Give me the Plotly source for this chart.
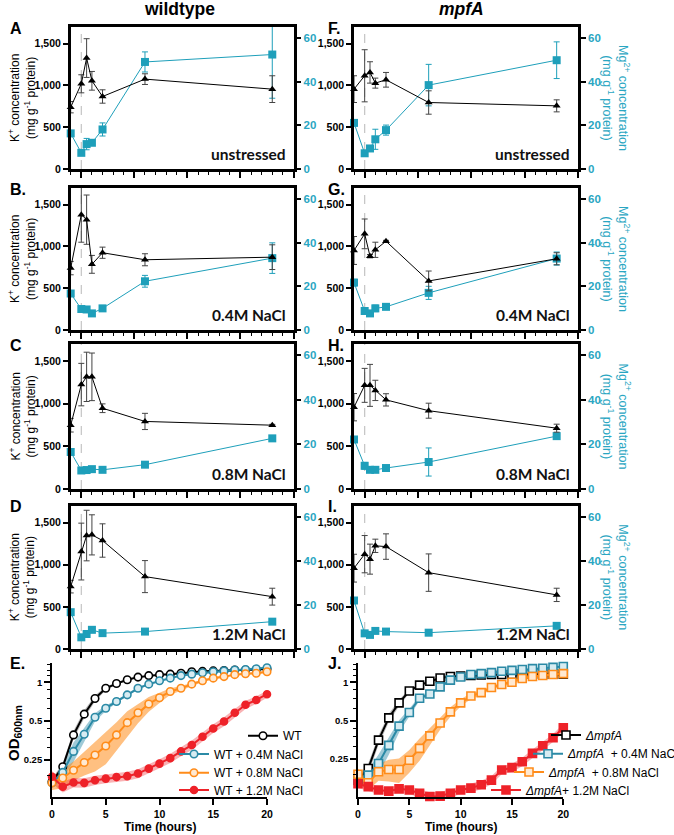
import math
import plotly.graph_objects as go

W, H = 674, 835
FONT = 'Liberation Sans, Arial, sans-serif'
PANEL_FONT = 'Lato, Liberation Sans, sans-serif'

# ---------------- ion content data (time in hours relative to stress) ----------------
ion_time = [-1, 0, 0.5, 1, 2, 6, 18]

wt_unstressed_k = [740, 1020, 1328, 1056, 868, 1076, 956]
wt_unstressed_k_err = [68, 108, 232, 112, 80, 64, 160]
wt_unstressed_mg = [16.3, 7.4, 11.4, 12.0, 18.1, 49.0, 52.4]
wt_unstressed_mg_err = [1.2, 0.8, 2.6, 1.2, 3.0, 4.6, 20.0]

wt_04_k = [741, 1381, 1321, 786, 925, 841, 872]
wt_04_k_err = [80, 330, 295, 107, 67, 72, 148]
wt_04_mg = [16.7, 9.6, 9.4, 7.6, 9.9, 22.3, 32.9]
wt_04_mg_err = [1.0, 1.0, 0.8, 0.8, 0.8, 2.7, 7.0]

wt_08_k = [748, 1224, 1315, 1315, 947, 792, 748]
wt_08_k_err = [80, 249, 289, 279, 51, 95, 10]
wt_08_mg = [16.6, 8.3, 8.5, 8.9, 8.6, 10.9, 22.7]
wt_08_mg_err = [0.6, 0.5, 0.5, 0.5, 0.5, 1.0, 0.6]

wt_12_k = [740, 1156, 1346, 1354, 1287, 859, 621]
wt_12_k_err = [75, 337, 300, 238, 198, 190, 100]
wt_12_mg = [16.7, 5.3, 6.8, 8.7, 7.2, 7.9, 12.4]
wt_12_mg_err = [0.8, 0.8, 0.8, 0.8, 0.6, 1.3, 1.0]

mpfa_unstressed_k = [956, 1116, 1156, 1028, 1068, 796, 756]
mpfa_unstressed_k_err = [160, 312, 128, 60, 88, 140, 72]
mpfa_unstressed_mg = [21.1, 7.2, 9.4, 13.6, 17.8, 38.4, 49.8]
mpfa_unstressed_mg_err = [1.0, 0.5, 1.2, 4.6, 2.3, 9.5, 8.4]

mpfa_04_k = [952, 1151, 884, 960, 1063, 587, 853]
mpfa_04_k_err = [167, 178, 20, 91, 10, 119, 72]
mpfa_04_mg = [21.7, 8.7, 7.6, 9.9, 10.6, 17.0, 32.7]
mpfa_04_mg_err = [1.5, 1.5, 1.0, 1.5, 0.8, 3.0, 3.0]

mpfa_08_k = [959, 1215, 1215, 1156, 1045, 918, 713]
mpfa_08_k_err = [160, 199, 246, 119, 72, 88, 47]
mpfa_08_mg = [22.2, 10.4, 8.6, 8.6, 9.4, 12.1, 23.7]
mpfa_08_mg_err = [1.0, 1.5, 0.8, 0.8, 0.8, 6.3, 1.0]

mpfa_12_k = [959, 1125, 1066, 1224, 1215, 906, 642]
mpfa_12_k_err = [165, 221, 178, 79, 151, 222, 79]
mpfa_12_mg = [22.0, 7.1, 6.4, 8.2, 7.9, 7.4, 10.5]
mpfa_12_mg_err = [0.7, 0.7, 0.7, 0.7, 0.7, 1.3, 0.7]

condition_labels = ['unstressed', '0.4M NaCl', '0.8M NaCl', '1.2M NaCl']
k_ticks = [0, 500, 1000, 1500]
mg_ticks = [0, 20, 40, 60]

# ---------------- growth curve data ----------------
growth_time = list(range(21))
od_ticks = [0.25, 0.5, 1]
od_tick_labels = ['0.25', '0.5', '1']
od_minor_ticks = [0.1875, 0.3125, 0.375, 0.4375, 0.625, 0.75, 0.875, 1.125, 1.25, 1.375]

wt_od = [0.168, 0.22, 0.39, 0.566, 0.75, 0.90, 0.98, 1.05, 1.10, 1.13, 1.15,
         1.16, 1.18, 1.21, 1.22, 1.23, 1.24, 1.25, 1.25, 1.26, 1.27]
wt_od_sd = [0.01, 0.015, 0.03, 0.04, 0.04, 0.03, 0.02, 0.02, 0.015, 0.015, 0.015,
            0.015, 0.015, 0.015, 0.015, 0.015, 0.015, 0.015, 0.015, 0.015, 0.02]
wt04_od = [0.165, 0.199, 0.29, 0.395, 0.535, 0.63, 0.71, 0.80, 0.90, 0.97, 1.03,
           1.08, 1.13, 1.16, 1.19, 1.21, 1.23, 1.25, 1.26, 1.28, 1.30]
wt04_od_sd = [0.01, 0.02, 0.05, 0.05, 0.04, 0.03, 0.02, 0.02, 0.02, 0.02, 0.02,
              0.02, 0.02, 0.02, 0.02, 0.02, 0.02, 0.02, 0.02, 0.02, 0.02]
wt08_od = [0.165, 0.18, 0.207, 0.238, 0.272, 0.32, 0.39, 0.486, 0.58, 0.68, 0.76,
           0.85, 0.90, 0.97, 1.03, 1.08, 1.11, 1.15, 1.17, 1.18, 1.21]
wt08_od_sd = [0.02, 0.03, 0.035, 0.05, 0.07, 0.09, 0.10, 0.11, 0.10, 0.09, 0.07,
              0.05, 0.04, 0.03, 0.025, 0.02, 0.02, 0.02, 0.02, 0.02, 0.02]
wt12_od = [0.184, 0.154, 0.166, 0.165, 0.173, 0.178, 0.183, 0.186, 0.195, 0.213, 0.233,
           0.257, 0.29, 0.325, 0.377, 0.438, 0.496, 0.58, 0.67, 0.73, 0.81]
wt12_od_sd = [0.02, 0.015, 0.014, 0.014, 0.014, 0.014, 0.015, 0.015, 0.016, 0.017, 0.019,
              0.021, 0.024, 0.027, 0.03, 0.035, 0.04, 0.045, 0.05, 0.05, 0.05]

mpfa_od = [0.171, 0.211, 0.352, 0.526, 0.69, 0.855, 0.95, 1.02, 1.08, 1.11, 1.12,
           1.13, 1.14, 1.15, 1.15, 1.15, 1.15, 1.16, 1.16, 1.16, 1.16]
mpfa_od_sd = [0.01, 0.02, 0.03, 0.04, 0.04, 0.03, 0.02, 0.02, 0.02, 0.02, 0.02,
              0.02, 0.02, 0.025, 0.03, 0.03, 0.03, 0.035, 0.04, 0.04, 0.04]
mpfa04_od = [0.17, 0.187, 0.231, 0.32, 0.453, 0.58, 0.75, 0.81, 0.92, 1.04, 1.10,
             1.15, 1.17, 1.19, 1.22, 1.24, 1.26, 1.28, 1.29, 1.31, 1.33]
mpfa04_od_sd = [0.01, 0.02, 0.04, 0.05, 0.05, 0.04, 0.03, 0.02, 0.02, 0.02, 0.02,
                0.02, 0.02, 0.02, 0.02, 0.02, 0.02, 0.02, 0.02, 0.02, 0.02]
mpfa08_od = [0.19, 0.163, 0.199, 0.207, 0.207, 0.245, 0.303, 0.38, 0.48, 0.586, 0.69,
             0.78, 0.83, 0.91, 0.96, 1.0, 1.07, 1.11, 1.13, 1.15, 1.17]
mpfa08_od_sd = [0.02, 0.02, 0.03, 0.04, 0.045, 0.05, 0.06, 0.06, 0.055, 0.05, 0.045,
                0.04, 0.035, 0.03, 0.03, 0.03, 0.03, 0.03, 0.03, 0.03, 0.03]
mpfa12_od = [0.16, 0.152, 0.143, 0.14, 0.146, 0.143, 0.135, 0.127, 0.128, 0.135, 0.143,
             0.148, 0.157, 0.171, 0.205, 0.214, 0.238, 0.277, 0.318, 0.367, 0.44]
mpfa12_od_sd = [0.012, 0.011, 0.01, 0.01, 0.01, 0.01, 0.01, 0.01, 0.01, 0.01, 0.01,
                0.011, 0.012, 0.013, 0.015, 0.016, 0.018, 0.02, 0.024, 0.027, 0.033]

wt_names = ['WT', 'WT + 0.4M NaCl', 'WT + 0.8M NaCl', 'WT + 1.2M NaCl']
mpfa_names = ['<i>ΔmpfA</i>', '<i>ΔmpfA</i>&nbsp; + 0.4M NaCl',
              '<i>ΔmpfA</i>&nbsp; + 0.8M NaCl', '<i>ΔmpfA</i>+ 1.2M NaCl']

# ---------------- styling ----------------
MG_COLOR = '#1e9fba'
MG_TEXT = '#2aa6c2'
TEAL = '#2b8aa6'
ORANGE = '#ff8c1a'
RED = '#ee2229'


def px(x):
    return x / W


def py(y):
    return 1 - y / H


COLS = [(70.7, 293.5), (354.0, 578.0)]
ROWS = [(27.0, 169.0), (188.0, 330.0), (344.0, 489.0), (505.7, 649.0)]
K_MAX = 1700
MG_MAX = 65

ion_sets = [
    (wt_unstressed_k, wt_unstressed_k_err, wt_unstressed_mg, wt_unstressed_mg_err),
    (wt_04_k, wt_04_k_err, wt_04_mg, wt_04_mg_err),
    (wt_08_k, wt_08_k_err, wt_08_mg, wt_08_mg_err),
    (wt_12_k, wt_12_k_err, wt_12_mg, wt_12_mg_err),
    (mpfa_unstressed_k, mpfa_unstressed_k_err, mpfa_unstressed_mg, mpfa_unstressed_mg_err),
    (mpfa_04_k, mpfa_04_k_err, mpfa_04_mg, mpfa_04_mg_err),
    (mpfa_08_k, mpfa_08_k_err, mpfa_08_mg, mpfa_08_mg_err),
    (mpfa_12_k, mpfa_12_k_err, mpfa_12_mg, mpfa_12_mg_err),
]
panel_letters = ['A', 'B.', 'C', 'D', 'F.', 'G.', 'H.', 'I.']

fig = go.Figure()
layout = dict(width=W, height=H, margin=dict(l=0, r=0, t=0, b=0, pad=0, autoexpand=False),
              paper_bgcolor='white', plot_bgcolor='white', autosize=False,
              font=dict(family=FONT, color='black'))
annotations = []
shapes = []

for i, (k, kerr, mg, mgerr) in enumerate(ion_sets):
    n = i + 1
    m = i + 11
    col = i // 4
    row = i % 4
    x0, x1 = COLS[col]
    top, bot = ROWS[row]
    xname = 'x' if n == 1 else f'x{n}'
    yname = 'y' if n == 1 else f'y{n}'
    ykname = f'y{m}'
    xkey = 'xaxis' if n == 1 else f'xaxis{n}'
    ykey = 'yaxis' if n == 1 else f'yaxis{n}'

    layout[xkey] = dict(domain=[px(x0), px(x1)], range=[-1, 20], anchor=yname,
                        showline=True, linewidth=2.5, linecolor='black', mirror=True,
                        ticks='outside', ticklen=6, tickwidth=1.5, tickcolor='black',
                        tickvals=[0, 5, 10, 15, 20], showticklabels=False,
                        showgrid=False, zeroline=False,
                        minor=dict(dtick=1, tick0=0, ticks='outside', ticklen=3,
                                   tickwidth=1.2, tickcolor='black', showgrid=False))
    # main axis (Mg, right side) so that the K+ overlay draws on top
    layout[ykey] = dict(domain=[py(bot), py(top)], range=[0, MG_MAX], anchor=xname,
                        side='right', showline=True, linewidth=2.5, linecolor='black',
                        ticks='outside', ticklen=5, tickwidth=1.5, tickcolor='black',
                        tickvals=mg_ticks, showgrid=False, zeroline=False,
                        tickfont=dict(family=FONT, size=11.5, color=MG_TEXT, weight='bold'))
    layout[f'yaxis{m}'] = dict(overlaying=yname, anchor=xname, side='left', range=[0, K_MAX],
                               showline=True, linewidth=2.5, linecolor='black',
                               ticks='outside', ticklen=5, tickwidth=1.5, tickcolor='black',
                               tickvals=k_ticks, tickformat=',d', showgrid=False, zeroline=False,
                               tickfont=dict(family=FONT, size=10.5, color='black', weight='bold'))

    shapes.append(dict(type='line', xref=xname, yref=f'{yname} domain', x0=0, x1=0, y0=0, y1=1,
                       line=dict(color='#c4c4c4', width=1.2, dash='dash'), layer='below'))

    fig.add_trace(go.Scatter(x=ion_time, y=mg, mode='lines+markers', xaxis=xname, yaxis=yname,
                             line=dict(color=MG_COLOR, width=1),
                             marker=dict(symbol='square', size=8, color=MG_COLOR),
                             error_y=dict(type='data', array=mgerr, color=MG_COLOR,
                                          thickness=1, width=3),
                             showlegend=False, cliponaxis=False))
    fig.add_trace(go.Scatter(x=ion_time, y=k, mode='lines+markers', xaxis=xname, yaxis=ykname,
                             line=dict(color='black', width=1),
                             marker=dict(symbol='triangle-up', size=7, color='black'),
                             error_y=dict(type='data', array=kerr, color='#444444',
                                          thickness=1, width=3),
                             showlegend=False, cliponaxis=False))

    annotations.append(dict(text=condition_labels[row], xref=f'{xname} domain',
                            yref=f'{yname} domain', x=0.975, y=0.03, xanchor='right',
                            yanchor='bottom', showarrow=False,
                            font=dict(family=PANEL_FONT, size=15.5, color='#111111',
                                      weight='bold')))
    lx = 8 if col == 0 else 326
    annotations.append(dict(text=f'<b>{panel_letters[i]}</b>', xref='paper', yref='paper',
                            x=px(lx), y=py(top + 1), xanchor='left', yanchor='middle',
                            showarrow=False, font=dict(family=FONT, size=16, color='black')))
    mid = (top + bot) / 2
    if col == 0:
        annotations.append(dict(text='K<sup>+</sup> concentration<br>(mg g<sup>-1</sup> protein)',
                                xref='paper', yref='paper', x=px(22), y=py(mid),
                                textangle=-90, showarrow=False, xanchor='center',
                                yanchor='middle',
                                font=dict(family=FONT, size=12, color='black')))
    else:
        annotations.append(dict(text='Mg<sup>2+</sup> concentration<br>(mg g<sup>-1</sup> protein)',
                                xref='paper', yref='paper', x=px(616), y=py(mid),
                                textangle=90, showarrow=False, xanchor='center',
                                yanchor='middle',
                                font=dict(family=FONT, size=12.5, color=MG_TEXT)))

# column titles
annotations.append(dict(text='<b>wildtype</b>', xref='paper', yref='paper', x=px(179), y=py(9),
                        showarrow=False, xanchor='center', yanchor='middle',
                        font=dict(family=FONT, size=17.5, color='black')))
annotations.append(dict(text='<b><i>mpfA</i></b>', xref='paper', yref='paper', x=px(461), y=py(9),
                        showarrow=False, xanchor='center', yanchor='middle',
                        font=dict(family=FONT, size=17.5, color='black')))

# ---------------- growth panels ----------------
growth_axes = [
    dict(n=9, x0=52, x1=267, letter='E.', lx=8, tx=160,
         series=[(wt_od, wt_od_sd, 'black', 'rgba(60,60,60,0.35)', 'circle', 'white', 7.5),
                 (wt04_od, wt04_od_sd, TEAL, 'rgba(43,138,166,0.45)', 'circle', '#d7ecf2', 7.5),
                 (wt08_od, wt08_od_sd, ORANGE, 'rgba(255,140,26,0.55)', 'circle', '#ffe9d2', 7.5),
                 (wt12_od, wt12_od_sd, RED, 'rgba(238,34,41,0.35)', 'circle', RED, 7)],
         names=wt_names, ylo=0.128),
    dict(n=10, x0=358, x1=563.3, letter='J.', lx=326, tx=461,
         series=[(mpfa_od, mpfa_od_sd, 'black', 'rgba(60,60,60,0.35)', 'square', 'white', 8),
                 (mpfa04_od, mpfa04_od_sd, TEAL, 'rgba(43,138,166,0.45)', 'square', '#d7ecf2', 8),
                 (mpfa08_od, mpfa08_od_sd, ORANGE, 'rgba(255,140,26,0.55)', 'square', '#ffe9d2', 8),
                 (mpfa12_od, mpfa12_od_sd, RED, 'rgba(238,34,41,0.35)', 'square', RED, 8)],
         names=mpfa_names, ylo=0.126),
]

E_LEG_Y = [735.7, 754, 772.7, 790]
J_LEG_Y = [735, 753.7, 772, 790]
J_LEG_X = [590, 572, 553, 530]

legend_counter = 1
for g in growth_axes:
    n = g['n']
    xname, yname = f'x{n}', f'y{n}'
    layout[f'xaxis{n}'] = dict(domain=[px(g['x0']), px(g['x1'])], range=[0, 20], anchor=yname,
                               showline=True, linewidth=1.8, linecolor='black',
                               ticks='outside', ticklen=6, tickwidth=1.5, tickcolor='black',
                               tickvals=[0, 5, 10, 15, 20], showgrid=False, zeroline=False,
                               tickfont=dict(family=FONT, size=10.5, weight='bold'))
    layout[f'yaxis{n}'] = dict(domain=[py(797), py(662.5)], type='log',
                               range=[math.log10(g['ylo']), math.log10(1.43)], anchor=xname,
                               showline=True, linewidth=1.8, linecolor='black',
                               ticks='outside', ticklen=6, tickwidth=1.5, tickcolor='black',
                               tickvals=od_ticks, ticktext=od_tick_labels,
                               showgrid=False, zeroline=False,
                               tickfont=dict(family=FONT, size=9.5, weight='bold'),
                               minor=dict(tickmode='array', tickvals=od_minor_ticks,
                                          ticks='outside', ticklen=3, tickwidth=1.2,
                                          tickcolor='black', showgrid=False))
    annotations.append(dict(text=f'<b>{g["letter"]}</b>', xref='paper', yref='paper',
                            x=px(g['lx']), y=py(663), xanchor='left', yanchor='middle',
                            showarrow=False, font=dict(family=FONT, size=16, color='black')))
    annotations.append(dict(text='<b>Time (hours)</b>', xref='paper', yref='paper',
                            x=px(g['tx']), y=py(827), xanchor='center', yanchor='middle',
                            showarrow=False, font=dict(family=FONT, size=12, color='black')))
    # bands first
    for (od, sd, col, band, sym, fillc, msize) in g['series']:
        upper = [a + b for a, b in zip(od, sd)]
        lower = [a - b for a, b in zip(od, sd)]
        fig.add_trace(go.Scatter(x=growth_time + growth_time[::-1], y=upper + lower[::-1],
                                 fill='toself', fillcolor=band, line=dict(width=0),
                                 mode='lines', hoverinfo='skip', showlegend=False,
                                 xaxis=xname, yaxis=yname))
    for j, (od, sd, col, band, sym, fillc, msize) in enumerate(g['series']):
        lname = 'legend' if legend_counter == 1 else f'legend{legend_counter}'
        fig.add_trace(go.Scatter(x=growth_time, y=od, mode='lines+markers', name=g['names'][j],
                                 line=dict(color=col, width=2),
                                 marker=dict(symbol=sym, size=msize, color=fillc,
                                             line=dict(color=col, width=1.6)),
                                 xaxis=xname, yaxis=yname, cliponaxis=False,
                                 legend=lname, showlegend=True))
        if n == 9:
            leg = dict(x=px(308), xanchor='right', y=py(E_LEG_Y[j]), yanchor='middle')
        else:
            leg = dict(x=px(J_LEG_X[j] - 44), xanchor='left', y=py(J_LEG_Y[j]), yanchor='middle')
        leg.update(bgcolor='rgba(0,0,0,0)', borderwidth=0, itemwidth=30,
                   font=dict(family=FONT, size=12, color='black'))
        layout[lname] = leg
        legend_counter += 1

annotations.append(dict(text='<b>OD<sub>600nm</sub></b>', xref='paper', yref='paper',
                        x=px(14), y=py(733), textangle=-90, showarrow=False,
                        xanchor='center', yanchor='middle',
                        font=dict(family=FONT, size=15, color='black')))

layout['annotations'] = annotations
layout['shapes'] = shapes
fig.update_layout(**layout)
fig.write_html('out.html', config={'displayModeBar': False},
               post_script="document.body.style.margin='0px';document.body.style.padding='0px';")
